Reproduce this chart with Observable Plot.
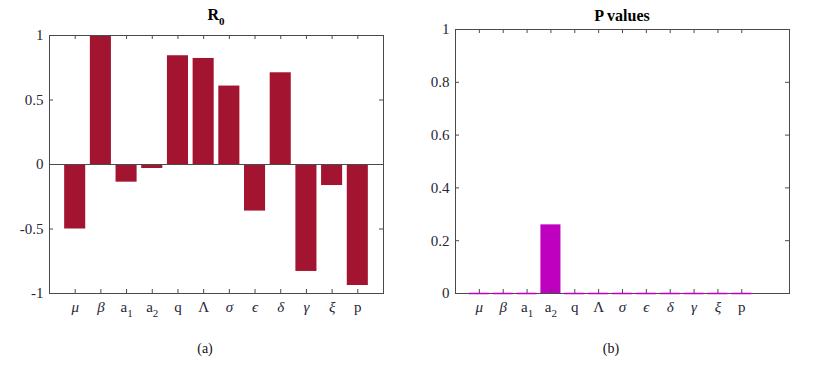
<!DOCTYPE html>
<html>
<head>
<meta charset="utf-8">
<script src="https://cdn.jsdelivr.net/npm/d3@7"></script>
<script src="https://cdn.jsdelivr.net/npm/@observablehq/plot@0.6"></script>
<style>
  html, body { margin: 0; padding: 0; background: #fff; }
  #wrap { position: relative; width: 826px; height: 368px; overflow: hidden; font-family: "Liberation Serif", "Times New Roman", "DejaVu Serif", serif; color: #262626; }
  .panel { position: absolute; top: 0; }
  .title { position: absolute; transform: translateX(-50%); font-weight: bold; font-size: 16px; line-height: 16px; white-space: nowrap; color: #000; }
  .cap { position: absolute; transform: translateX(-50%); font-size: 14px; line-height: 14px; white-space: nowrap; color: #111; }
  .sub { font-size: 11px; position: relative; top: 5px; }
</style>
</head>
<body>
<div id="wrap">
  <div class="panel" id="left" style="left:0px"></div>
  <div class="panel" id="right" style="left:413px"></div>
  <div class="title" style="left:216px; top:7px">R<span class="sub">0</span></div>
  <div class="title" style="left:622px; top:8px">P values</div>
  <div class="cap" style="left:205px; top:342px">(a)</div>
  <div class="cap" style="left:611px; top:342px">(b)</div>
</div>
<script>
// ---- data ----
const categories = ["μ", "β", "a1", "a2", "q", "Λ", "σ", "ϵ", "δ", "γ", "ξ", "p"];
const r0Values = [-0.50, 1.00, -0.137, -0.031, 0.843, 0.822, 0.608, -0.361, 0.711, -0.829, -0.163, -0.938];
const pValues = [0, 0, 0, 0.26, 0, 0, 0, 0, 0, 0, 0, 0];
const r0Ticks = [-1, -0.5, 0, 0.5, 1];
const pTicks = [0, 0.2, 0.4, 0.6, 0.8, 1];
const italicLabels = ["μ", "β", "σ", "ϵ", "δ", "γ", "ξ"];

const table = categories.map((c, i) => ({cat: c, pos: i + 1, r0: r0Values[i], p: pValues[i]}));
const positions = table.map(d => d.pos);

const axisColor = "#4a4a4a";
const textColor = "#262636";
const fontFamily = '"Liberation Serif", "Times New Roman", "DejaVu Serif", serif';

function panel({width, height, mL, mR, mT, mB, xMax, yDomain, yTicks, field, fill, half, baseline}) {
  const innerW = width - mL - mR;
  const innerH = height - mT - mB;
  const tick = 4;
  const marks = [
    Plot.rectY(table.filter(d => d[field] !== 0), {x1: d => d.pos - half, x2: d => d.pos + half, y1: 0, y2: field, fill: fill}),
  ];
  if (baseline) marks.push(Plot.ruleY([0], {stroke: axisColor, strokeWidth: 1}));
  marks.push(
    Plot.frame({stroke: axisColor, strokeWidth: 1}),
    Plot.ruleX(positions, {x: d => d, insetTop: innerH - tick, stroke: axisColor}),
    Plot.ruleX(positions, {x: d => d, insetBottom: innerH - tick, stroke: axisColor}),
    Plot.ruleY(yTicks, {y: d => d, insetRight: innerW - tick, stroke: axisColor}),
    Plot.ruleY(yTicks, {y: d => d, insetLeft: innerW - tick, stroke: axisColor}),
    Plot.axisY({ticks: yTicks, tickSize: 0, tickPadding: 6, tickFormat: d => String(d), label: null, fontSize: 15, fill: textColor, fontFamily}),
    Plot.axisX({ticks: positions, tickSize: 0, tickPadding: 8, tickFormat: i => categories[i - 1], label: null, fontSize: 15, fill: textColor, fontFamily})
  );
  // zero-valued bars collapse onto the baseline as thin coloured segments
  marks.push(Plot.ruleY(table.filter(d => d[field] === 0), {x1: d => d.pos - half, x2: d => d.pos + half, y: field, stroke: fill, strokeWidth: 1.5}));
  const svg = Plot.plot({
    width, height,
    marginLeft: mL, marginRight: mR, marginTop: mT, marginBottom: mB,
    x: {type: "linear", domain: [0, xMax]},
    y: {domain: yDomain},
    style: {fontFamily, background: "transparent", overflow: "visible"},
    marks
  });
  svg.querySelectorAll('g[aria-label="x-axis tick label"] text').forEach(t => {
    const s = t.textContent;
    if (italicLabels.includes(s)) t.setAttribute("font-style", "italic");
    const m = /^a(\d)$/.exec(s);
    if (m) {
      t.textContent = "a";
      const ts = document.createElementNS("http://www.w3.org/2000/svg", "tspan");
      ts.setAttribute("font-size", "11");
      ts.setAttribute("dy", "5");
      ts.textContent = m[1];
      t.appendChild(ts);
    }
  });
  return svg;
}

document.getElementById("left").appendChild(panel({
  width: 413, height: 368, mL: 49, mR: 30, mT: 35, mB: 75,
  xMax: 13, yDomain: [-1, 1], yTicks: r0Ticks, field: "r0", fill: "#A2142F", half: 0.41, baseline: true
}));
document.getElementById("right").appendChild(panel({
  width: 413, height: 368, mL: 42, mR: 37, mT: 29, mB: 75,
  xMax: 14, yDomain: [0, 1], yTicks: pTicks, field: "p", fill: "#BF00BF", half: 0.42, baseline: false
}));
</script>
</body>
</html>
